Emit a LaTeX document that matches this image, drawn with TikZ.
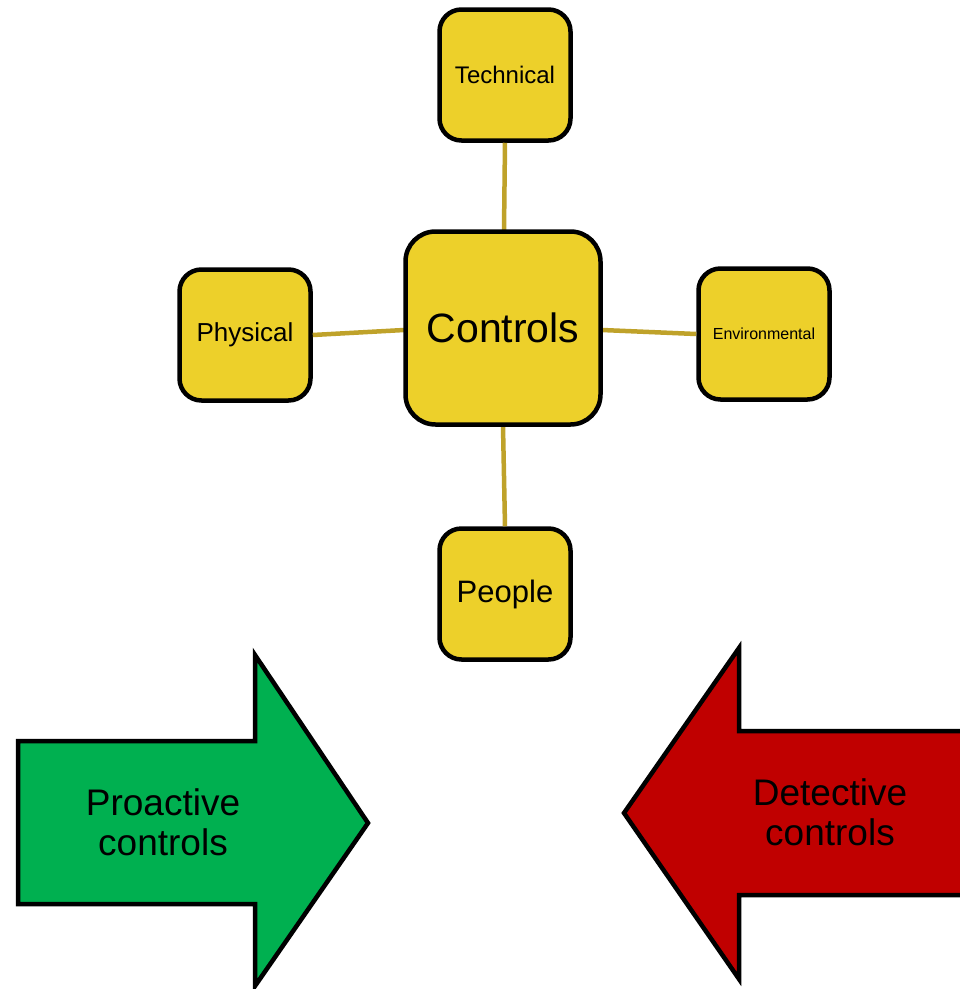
\documentclass[tikz,border=0pt]{standalone}
\usepackage{fontspec}
\setmainfont{Liberation Sans}
\definecolor{boxyellow}{HTML}{EDD02A}
\definecolor{linkgold}{HTML}{BFA22A}
\definecolor{progreen}{HTML}{00B050}
\definecolor{detred}{HTML}{C00000}
\tikzset{
  smallbox/.style={draw=black, line width=4.5pt, fill=boxyellow, rounded corners=22pt,
    minimum width=131pt, minimum height=131pt, inner sep=0pt, align=center},
  bigbox/.style={draw=black, line width=4.5pt, fill=boxyellow, rounded corners=30pt,
    minimum width=195pt, minimum height=193pt, inner sep=0pt, align=center},
  link/.style={draw=linkgold, line width=4.5pt},
  bigarrow/.style={draw=black, line width=4.5pt, line join=miter},
  arrowtext/.style={align=center, font=\fontsize{37}{40}\selectfont, inner sep=0pt}
}
\begin{document}
\begin{tikzpicture}[x=1pt, y=-1pt]
\useasboundingbox (0,0) rectangle (960,989);
\clip (0,0) rectangle (960,989);
\coordinate (cT) at (504,230);
\coordinate (cL) at (404,330);
\coordinate (cR) at (602,330);
\coordinate (cB) at (503,426);
\node[smallbox] (tech) at (505,75) {\fontsize{24}{28}\selectfont Technical};
\node[smallbox] (phys) at (245,335) {\fontsize{26}{30}\selectfont Physical};
\node[smallbox] (env) at (764,334) {\fontsize{16}{19}\selectfont Environmental};
\node[smallbox] (people) at (505,594) {\fontsize{31}{35}\selectfont People};
\draw[link] (tech.south) -- (cT);
\draw[link] (phys.east) -- (cL);
\draw[link] (cR) -- (env.west);
\draw[link] (cB) -- (people.north);
\node[bigbox] (ctrl) at (503,328) {\fontsize{41}{46}\selectfont Controls};
% proactive arrow
\draw[bigarrow, fill=progreen] (18,741) -- (255,741) -- (255,655) -- (368,823)
  -- (255,986) -- (255,904) -- (18,904) -- cycle;
\node[arrowtext] (pro) at (163,822) {Proactive\\controls};
% detective arrow
\draw[bigarrow, fill=detred] (990,731) -- (739,731) -- (739,648) -- (624,813)
  -- (739,979) -- (739,895) -- (990,895) -- cycle;
\node[arrowtext] (det) at (830,812) {Detective\\controls};
\end{tikzpicture}
\end{document}
